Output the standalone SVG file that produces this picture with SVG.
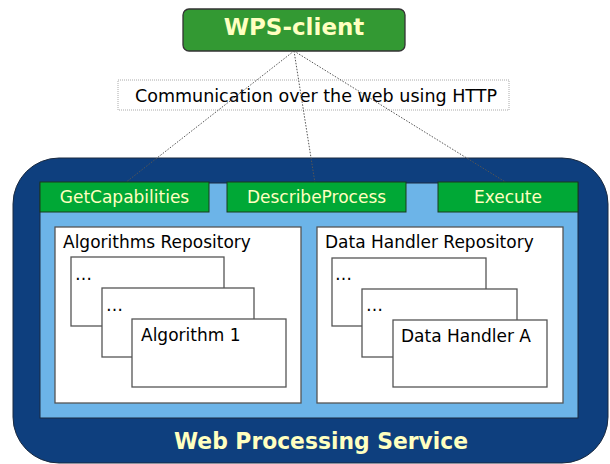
<svg xmlns="http://www.w3.org/2000/svg" width="610" height="464" viewBox="0 0 610 464">
<style>
.t{font-family:"DejaVu Sans",Verdana,sans-serif;fill:#000;font-size:17px}
.y{font-family:"DejaVu Sans",Verdana,sans-serif;fill:#ffffc0;font-weight:bold}
.tab{fill:#00a836;stroke:#1a3a1a;stroke-width:1}
.tabt{font-family:"DejaVu Sans",Verdana,sans-serif;fill:#ffffc0;font-size:17px;text-anchor:middle}
.box{fill:#fff;stroke:#555;stroke-width:1.3}
.card{fill:#fff;stroke:#555;stroke-width:1.3}
.conn{fill:none;stroke:#555;stroke-width:1;stroke-dasharray:1.5 1.5}
</style>
<rect width="610" height="464" fill="#fff"/>
<g id="wps">
<rect x="13" y="158" width="595" height="305" rx="46" ry="46" fill="#0e3f7e" stroke="#1a2a40" stroke-width="1"/>
<rect x="40" y="183" width="538" height="235" fill="#6cb4e8" stroke="#1a2a40" stroke-width="1"/>
<text class="y" x="321" y="449" font-size="23.5" text-anchor="middle" textLength="294" lengthAdjust="spacingAndGlyphs">Web Processing Service</text>
</g>
<g id="client">
<rect x="183" y="9" width="222" height="42" rx="6" ry="6" fill="#339933" stroke="#333" stroke-width="1.3"/>
<text class="y" x="294" y="35" font-size="23" text-anchor="middle">WPS-client</text>
</g>
<g id="http-label">
<rect x="118" y="80" width="391" height="30" fill="#fff" stroke="#aaa" stroke-width="1" stroke-dasharray="1 1"/>
<text class="t" x="316" y="102" font-size="18.5" text-anchor="middle" textLength="362" lengthAdjust="spacingAndGlyphs">Communication over the web using HTTP</text>
</g>
<g id="connectors">
<line class="conn" x1="294" y1="51" x2="125" y2="183"/>
<line class="conn" x1="294" y1="51" x2="315" y2="183"/>
<line class="conn" x1="294" y1="51" x2="507" y2="183"/>
</g>
<g id="getcap">
<rect class="tab" x="40" y="182" width="169" height="30"/>
<text class="tabt" x="124.5" y="203">GetCapabilities</text>
</g>
<g id="describe">
<rect class="tab" x="227" y="182" width="179" height="30"/>
<text class="tabt" x="316.5" y="203">DescribeProcess</text>
</g>
<g id="execute">
<rect class="tab" x="438" y="182" width="140" height="30"/>
<text class="tabt" x="508" y="203">Execute</text>
</g>
<g id="algrepo">
<rect class="box" x="55" y="227" width="246" height="176"/>
<text class="t" x="63" y="248">Algorithms Repository</text>
<rect class="card" x="71" y="257" width="153" height="69"/>
<text class="t" x="75" y="280">…</text>
<rect class="card" x="102" y="288" width="152" height="69"/>
<text class="t" x="106" y="311">…</text>
<rect class="card" x="132" y="319" width="154" height="68"/>
<text class="t" x="141" y="341">Algorithm 1</text>
</g>
<g id="datarepo">
<rect class="box" x="317" y="227" width="246" height="176"/>
<text class="t" x="325" y="248">Data Handler Repository</text>
<rect class="card" x="332" y="258" width="154" height="68"/>
<text class="t" x="335" y="280">…</text>
<rect class="card" x="362" y="289" width="155" height="68"/>
<text class="t" x="366" y="311">…</text>
<rect class="card" x="393" y="320" width="154" height="67"/>
<text class="t" x="401" y="342">Data Handler A</text>
</g>
</svg>
